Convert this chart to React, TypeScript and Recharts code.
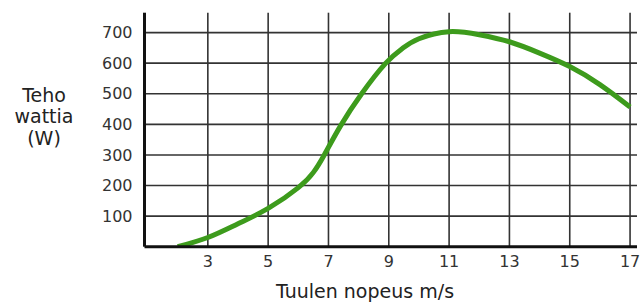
import React from 'react';
import { LineChart, Line, XAxis, YAxis, CartesianGrid } from 'recharts';

const windSpeed = [2, 3, 4, 5, 6, 6.5, 6.86, 7.4, 8.1, 8.9, 9.45, 10, 11, 12, 13, 14, 15, 16, 17];
const power = [0, 30, 75, 125, 193, 243, 300, 395, 500, 600, 648, 680, 703, 693, 670, 633, 589, 530, 457];
const xTicks = [3, 5, 7, 9, 11, 13, 15, 17];
const yTicks = [100, 200, 300, 400, 500, 600, 700];
const yTitle = ['Teho', 'wattia', '(W)'];
const xTitle = 'Tuulen nopeus m/s';

const data = windSpeed.map((x, i) => ({ x, y: power[i] }));

const FONT = '"DejaVu Sans", Verdana, sans-serif';

export default function App() {
  return (
    <div style={{ position: 'absolute', left: 0, top: 0, width: 643, height: 302, background: '#fff' }}>
      <LineChart
        width={643}
        height={302}
        data={data}
        margin={{ top: 12.7, right: 6, left: 0, bottom: 0 }}
      >
        <CartesianGrid
          stroke="#333"
          strokeWidth={1.6}
          horizontalValues={yTicks}
          verticalValues={xTicks}
        />
        <XAxis
          dataKey="x"
          type="number"
          domain={[0.9, 17.23]}
          ticks={xTicks}
          allowDataOverflow
          height={55.3}
          tickLine={false}
          tickSize={0}
          tickMargin={9}
          axisLine={{ stroke: '#111', strokeWidth: 3 }}
          tick={{ fill: '#333', fontSize: 16, fontFamily: FONT }}
        />
        <YAxis
          type="number"
          domain={[0, 765]}
          ticks={yTicks}
          allowDataOverflow
          width={144.5}
          tickLine={false}
          tickSize={0}
          tickMargin={12}
          axisLine={{ stroke: '#111', strokeWidth: 3 }}
          tick={{ fill: '#333', fontSize: 16, fontFamily: FONT }}
        />
        <Line
          dataKey="y"
          type="natural"
          stroke="#3d9b1c"
          strokeWidth={5}
          dot={false}
          isAnimationActive={false}
        />
      </LineChart>
      <svg
        width={643}
        height={302}
        style={{ position: 'absolute', left: 0, top: 0, pointerEvents: 'none' }}
      >
        {yTitle.map((t, i) => (
          <text
            key={t}
            x={44}
            y={101.7 + i * 21.5}
            textAnchor="middle"
            fontFamily={FONT}
            fontSize={19}
            fill="#222"
          >
            {t}
          </text>
        ))}
        <text x={365} y={298} textAnchor="middle" fontFamily={FONT} fontSize={19} fill="#222">
          {xTitle}
        </text>
      </svg>
    </div>
  );
}
